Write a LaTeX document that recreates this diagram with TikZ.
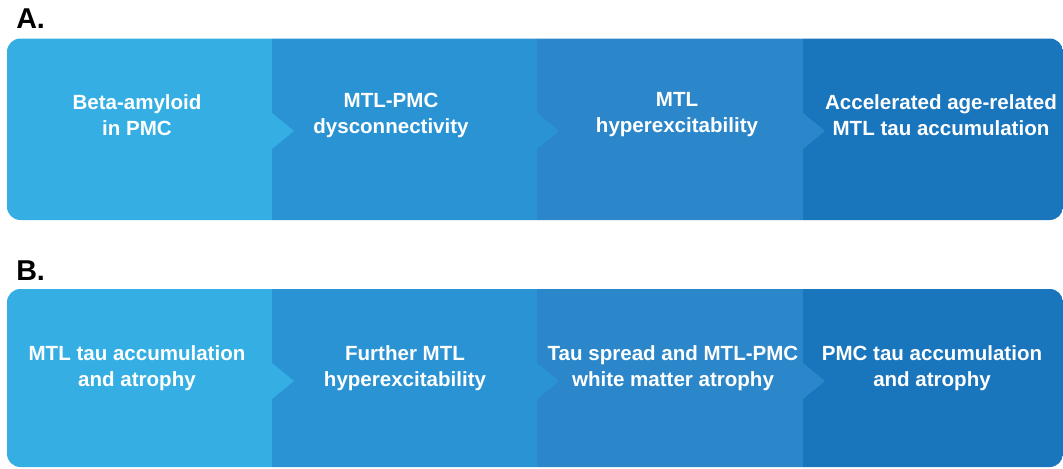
\documentclass[tikz,border=0pt]{standalone}
\usepackage{fontspec}
\setmainfont{Liberation Sans}
\usetikzlibrary{positioning}
\definecolor{StepOne}{HTML}{35AFE3}
\definecolor{StepTwo}{HTML}{2A93D4}
\definecolor{StepThree}{HTML}{2B87CA}
\definecolor{StepFour}{HTML}{1975BC}
\tikzset{steptext/.style={text=white, align=center, inner sep=0pt,
    font=\fontsize{15.4}{19.5}\selectfont\bfseries},
  rowlabel/.style={anchor=base west, inner sep=0pt,
    font=\fontsize{21.5}{22}\selectfont\bfseries}}

\begin{document}
\begin{tikzpicture}[x=0.75pt, y=-0.75pt]
  \useasboundingbox (0,0) rectangle (1063,468);

  % the two rows of steps
  \foreach \top/\bot/\mid in {38.5/220/131, 289/467/381}{%
    \begin{scope}
      \clip[rounded corners=10] (7,\top) rectangle (1063,\bot);
      \foreach \xa/\xb/\col in {7/272/StepOne, 272/537/StepTwo,
        537/803/StepThree, 803/1070/StepFour}{%
        \fill[\col] (\xa,\top-5) rectangle (\xb,\bot+5);
      }
      \foreach \xb/\col in {272/StepOne, 537/StepTwo, 803/StepThree}{%
        \fill[\col] (\xb,\mid-18) -- (\xb+22,\mid) -- (\xb,\mid+18) -- cycle;
      }
    \end{scope}
  }

  \node[rowlabel] (labelA) at (16,28) {A.};
  \node[rowlabel] (labelB) at (16,280) {B.};

  % row A
  \node[steptext] (amyloid)  at (137,115) {Beta-amyloid\\in PMC};
  \node[steptext] (dyscon)   at (391,115) {MTL-PMC\\dysconnectivity};
  \node[steptext] (hyperA)   at (677,115) {MTL\\hyperexcitability};
  \node[steptext] (tauage)   at (941,115) {Accelerated age-related\\MTL tau accumulation};

  % row B
  \node[steptext] (mtltau)   at (137,368) {MTL tau accumulation\\and atrophy};
  \node[steptext] (hyperB)   at (405,368) {Further MTL\\hyperexcitability};
  \node[steptext] (spread)   at (673,368) {Tau spread and MTL-PMC\\white matter atrophy};
  \node[steptext] (pmctau)   at (932,368) {PMC tau accumulation\\and atrophy};
\end{tikzpicture}
\end{document}
